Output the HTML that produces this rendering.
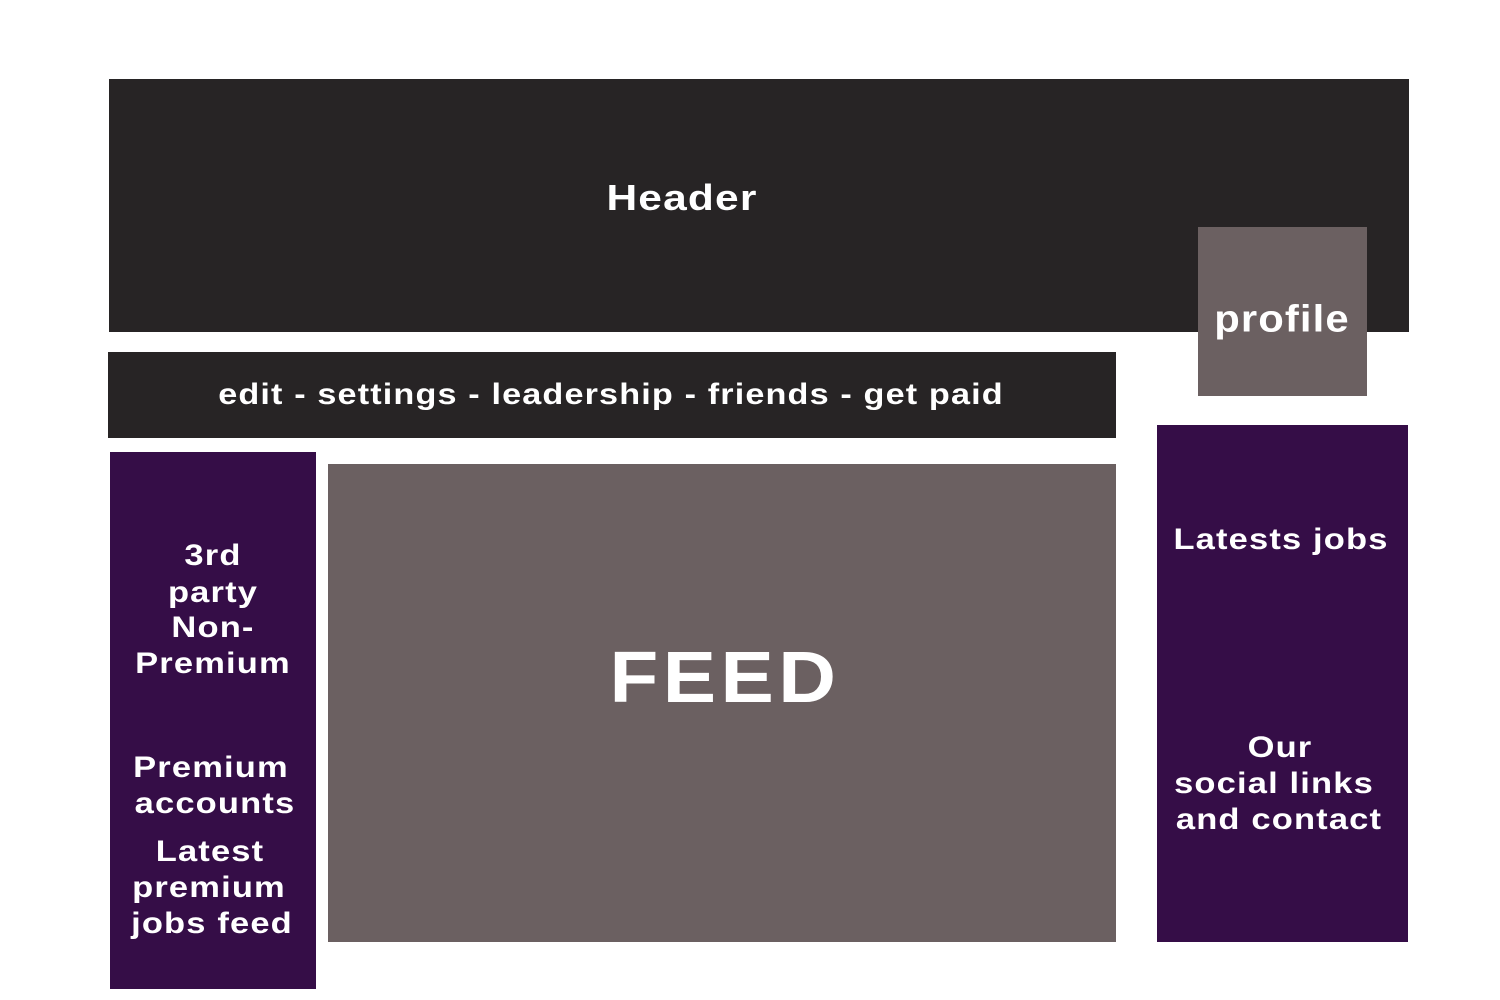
<!DOCTYPE html>
<html><head><meta charset="utf-8"><style>
body{margin:0;width:1500px;height:1000px;background:#fff;position:relative;overflow:hidden;font-family:"Liberation Sans",sans-serif;font-weight:bold;color:#fff}
.b{position:absolute}
.t{position:absolute;transform:translate(-50%,-50%) scaleX(1.15);white-space:nowrap;font-size:30px;letter-spacing:1px}
.d{background:#272425}.g{background:#6b6061}.p{background:#350d47}
</style></head><body>
<div class="b d" style="left:109px;top:79px;width:1300px;height:253px"></div>
<div class="b g" style="left:1198px;top:227px;width:169px;height:169px"></div>
<div class="b d" style="left:108px;top:352px;width:1008px;height:86px"></div>
<div class="b p" style="left:110px;top:452px;width:206px;height:537px"></div>
<div class="b g" style="left:328px;top:464px;width:788px;height:478px"></div>
<div class="b p" style="left:1157px;top:425px;width:251px;height:517px"></div>

<div class="t" style="left:682px;top:198px;font-size:36px;transform:translate(-50%,-50%) scaleX(1.18)">Header</div>
<div class="t" style="left:1282px;top:320px;font-size:38px;transform:translate(-50%,-50%) scaleX(1.1)">profile</div>
<div class="t" style="left:611px;top:395px;transform:translate(-50%,-50%) scaleX(1.14)">edit - settings - leadership - friends - get paid</div>
<div class="t" style="left:725px;top:678px;font-size:72px;letter-spacing:4px;transform:translate(-50%,-50%) scaleX(1.11)">FEED</div>

<div class="t" style="left:213px;top:556px">3rd</div>
<div class="t" style="left:213px;top:593px">party</div>
<div class="t" style="left:213px;top:628px">Non-</div>
<div class="t" style="left:213px;top:664px">Premium</div>
<div class="t" style="left:211px;top:768px">Premium</div>
<div class="t" style="left:215px;top:804px">accounts</div>
<div class="t" style="left:210px;top:852px">Latest</div>
<div class="t" style="left:209px;top:888px">premium</div>
<div class="t" style="left:212px;top:924px">jobs feed</div>

<div class="t" style="left:1281px;top:540px">Latests jobs</div>
<div class="t" style="left:1280px;top:748px">Our</div>
<div class="t" style="left:1274px;top:784px">social links</div>
<div class="t" style="left:1279px;top:820px">and contact</div>
</body></html>
